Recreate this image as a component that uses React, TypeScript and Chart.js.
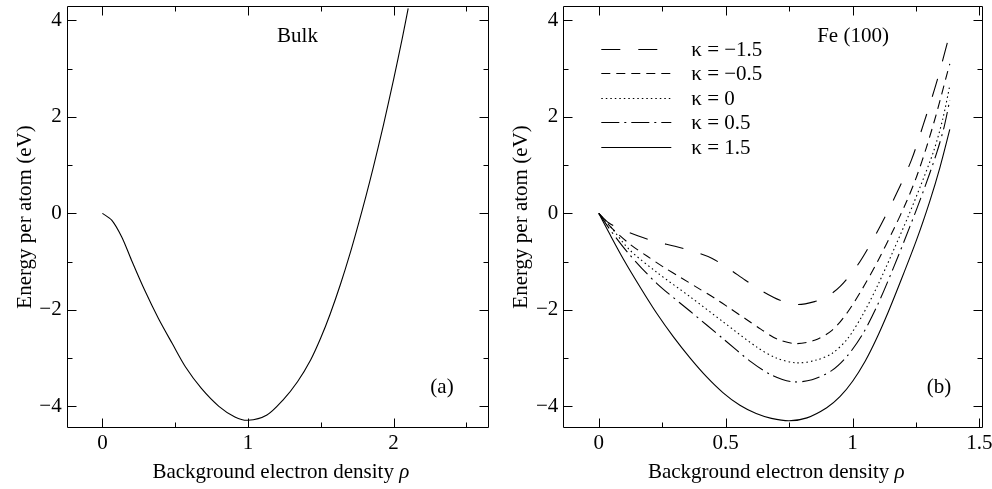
import React, { useEffect, useRef } from "react";
import { Chart, registerables } from "chart.js";

Chart.register(...registerables);

const FONT = '"Liberation Serif", "Times New Roman", Times, serif';

// ---------- Panel (a): Bulk ----------
const bulkRho = [0, 0.064, 0.133, 0.2, 0.29, 0.385, 0.48, 0.57, 0.68, 0.8, 0.91, 1.0, 1.13, 1.24, 1.34, 1.43, 1.5, 1.565, 1.635, 1.7, 1.76, 1.81, 1.86, 1.93, 2.0, 2.06, 2.1];
const bulkEnergy = [0, -0.14, -0.49, -0.97, -1.59, -2.18, -2.7, -3.18, -3.63, -4.0, -4.22, -4.29, -4.18, -3.87, -3.49, -3.04, -2.58, -2.08, -1.47, -0.84, -0.2, 0.36, 0.95, 1.83, 2.78, 3.64, 4.25];

// ---------- Panel (b): Fe (100) ----------
const kappaLabels = ["κ = −1.5", "κ = −0.5", "κ = 0", "κ = 0.5", "κ = 1.5"];

const rhoKm15 = [0, 0.04, 0.09, 0.156, 0.228, 0.3, 0.379, 0.445, 0.51, 0.576, 0.64, 0.714, 0.78, 0.85, 0.9, 0.95, 1.02, 1.094, 1.173, 1.232, 1.278, 1.33, 1.383];
const eKm15 = [0, -0.2, -0.33, -0.47, -0.59, -0.68, -0.8, -0.93, -1.14, -1.38, -1.6, -1.8, -1.89, -1.83, -1.72, -1.52, -1.07, -0.41, 0.41, 1.11, 1.83, 2.7, 3.73];

const rhoKm05 = [0, 0.05, 0.123, 0.191, 0.257, 0.323, 0.388, 0.454, 0.517, 0.579, 0.638, 0.7, 0.775, 0.85, 0.92, 0.98, 1.04, 1.1, 1.16, 1.213, 1.252, 1.291, 1.331, 1.37, 1.383];
const eKm05 = [0, -0.3, -0.64, -0.89, -1.12, -1.33, -1.54, -1.75, -1.97, -2.19, -2.4, -2.6, -2.7, -2.63, -2.42, -2.05, -1.55, -0.98, -0.35, 0.25, 0.76, 1.37, 2.08, 2.85, 3.1];

const rhoK0 = [0, 0.05, 0.12, 0.228, 0.36, 0.49, 0.622, 0.7, 0.78, 0.858, 0.92, 0.98, 1.04, 1.1, 1.16, 1.22, 1.27, 1.32, 1.355, 1.383];
const eK0 = [0, -0.3, -0.75, -1.22, -1.73, -2.25, -2.77, -3.0, -3.1, -3.04, -2.9, -2.6, -2.1, -1.48, -0.78, -0.05, 0.6, 1.3, 1.95, 2.65];

const rhoK05 = [0, 0.05, 0.12, 0.228, 0.36, 0.49, 0.6, 0.68, 0.76, 0.84, 0.92, 0.98, 1.04, 1.1, 1.16, 1.226, 1.278, 1.331, 1.36, 1.383];
const eK05 = [0, -0.38, -0.85, -1.45, -2.03, -2.6, -3.08, -3.35, -3.49, -3.45, -3.25, -2.95, -2.5, -1.88, -1.14, -0.27, 0.45, 1.25, 1.78, 2.35];

const rhoK15 = [0, 0.044, 0.097, 0.163, 0.228, 0.294, 0.36, 0.425, 0.49, 0.556, 0.62, 0.68, 0.75, 0.82, 0.898, 0.95, 1.0, 1.05, 1.094, 1.14, 1.186, 1.252, 1.304, 1.344, 1.383];
const eK15 = [0, -0.44, -0.95, -1.53, -2.07, -2.56, -3.0, -3.39, -3.72, -3.98, -4.15, -4.25, -4.3, -4.24, -4.03, -3.8, -3.48, -3.06, -2.6, -2.05, -1.45, -0.55, 0.25, 0.95, 1.74];

// ---------- Ticks ----------
const yMajorTicks = [-4, -2, 0, 2, 4];
const yMinorTicks = [-3, -1, 1, 3];
const xMajorTicksA = [0, 1, 2];
const xMinorTicksA = [0.5, 1.5, 2.5];
const xMajorTicksB = [0, 0.5, 1, 1.5];
const xMinorTicksB = [0.25, 0.75, 1.25];

const xTitle = "Background electron density ";
const xTitleSymbol = "ρ";
const yTitle = "Energy per atom (eV)";

const fmt = (v: number) => (v < 0 ? "\u2212" + Math.abs(v) : String(v));

const pts = (xs: number[], ys: number[]) => xs.map((x, i) => ({ x, y: ys[i] }));

const framePlugin = {
  id: "frame",
  afterDraw(chart: any, _args: any, opts: any) {
    const { ctx, chartArea: a, scales } = chart;
    const xs = scales.x;
    const ys = scales.y;
    ctx.save();
    ctx.strokeStyle = "#000";
    ctx.fillStyle = "#000";
    ctx.lineWidth = 1;
    const L = Math.round(a.left) + 0.5;
    const R = Math.round(a.right) - 0.5;
    const T = Math.round(a.top) + 0.5;
    const B = Math.round(a.bottom) - 0.5;
    ctx.beginPath();
    ctx.rect(L, T, R - L, B - T);
    ctx.stroke();
    const line = (x1: number, y1: number, x2: number, y2: number) => {
      ctx.beginPath();
      ctx.moveTo(x1, y1);
      ctx.lineTo(x2, y2);
      ctx.stroke();
    };
    const xt = (v: number, len: number) => {
      const p = Math.round(xs.getPixelForValue(v)) + 0.5;
      if (p < L || p > R) return;
      line(p, B, p, B - len);
      line(p, T, p, T + len);
    };
    const yt = (v: number, len: number) => {
      const p = Math.round(ys.getPixelForValue(v)) + 0.5;
      if (p < T || p > B) return;
      line(L, p, L + len, p);
      line(R, p, R - len, p);
    };
    opts.xMajor.forEach((v: number) => xt(v, 9));
    opts.xMinor.forEach((v: number) => xt(v, 5));
    yMajorTicks.forEach((v) => yt(v, 9));
    yMinorTicks.forEach((v) => yt(v, 5));

    // axis titles
    ctx.font = `21px ${FONT}`;
    ctx.textBaseline = "alphabetic";
    const w1 = ctx.measureText(xTitle).width;
    ctx.font = `italic 21px ${FONT}`;
    const w2 = ctx.measureText(xTitleSymbol).width;
    const cx = (a.left + a.right) / 2 + 3;
    const startX = cx - (w1 + w2) / 2;
    ctx.font = `21px ${FONT}`;
    ctx.textAlign = "left";
    ctx.fillText(xTitle, startX, a.bottom + 50);
    ctx.font = `italic 21px ${FONT}`;
    ctx.fillText(xTitleSymbol, startX + w1, a.bottom + 50);

    ctx.save();
    ctx.translate(a.left - 36, (a.top + a.bottom) / 2);
    ctx.rotate(-Math.PI / 2);
    ctx.font = `21px ${FONT}`;
    ctx.textAlign = "center";
    ctx.fillText(yTitle, 0, 0);
    ctx.restore();

    // annotations
    ctx.font = `21px ${FONT}`;
    ctx.textAlign = "center";
    ctx.textBaseline = "middle";
    ctx.fillText(opts.label, opts.labelX, 36);
    ctx.fillText(opts.tag, opts.tagX, 387);

    // legend
    if (opts.legend) {
      const x0 = a.left + 38;
      const x1 = a.left + 108;
      const tx = a.left + 128;
      chart.data.datasets.forEach((ds: any, i: number) => {
        const y = Math.round(49 + i * 24.4) + 0.5;
        ctx.save();
        ctx.setLineDash(ds.borderDash || []);
        ctx.lineWidth = ds.borderWidth;
        ctx.beginPath();
        ctx.moveTo(x0, y);
        ctx.lineTo(x1, y);
        ctx.stroke();
        ctx.restore();
        ctx.textAlign = "left";
        ctx.textBaseline = "middle";
        ctx.font = `21px ${FONT}`;
        ctx.fillText(ds.label, tx, y + 1);
      });
    }
    ctx.restore();
  },
};

function makeOptions(xMin: number, xMax: number, xTicks: number[], yAxisWidth: number, padRight: number, extra: any) {
  return {
    responsive: false,
    animation: false as const,
    maintainAspectRatio: false,
    layout: { padding: { left: 0, right: padRight, top: 6, bottom: 0 } },
    plugins: {
      legend: { display: false },
      tooltip: { enabled: false },
      frame: extra,
    },
    elements: { point: { radius: 0 } },
    scales: {
      x: {
        type: "linear" as const,
        min: xMin,
        max: xMax,
        grid: { display: false, drawTicks: false },
        border: { display: false },
        afterBuildTicks: (s: any) => {
          s.ticks = xTicks.map((v) => ({ value: v }));
        },
        afterFit: (s: any) => {
          s.height = 61;
          s.paddingLeft = 0;
          s.paddingRight = 0;
        },
        ticks: {
          autoSkip: false,
          maxRotation: 0,
          padding: 3,
          color: "#000",
          font: { family: FONT, size: 21 },
          callback: (v: any) => fmt(Number(v)),
        },
      },
      y: {
        type: "linear" as const,
        min: -4.45,
        max: 4.3,
        grid: { display: false, drawTicks: false },
        border: { display: false },
        afterBuildTicks: (s: any) => {
          s.ticks = yMajorTicks.map((v) => ({ value: v }));
        },
        afterFit: (s: any) => {
          s.width = yAxisWidth;
          s.paddingTop = 0;
          s.paddingBottom = 0;
        },
        ticks: {
          autoSkip: false,
          padding: 5,
          color: "#000",
          font: { family: FONT, size: 21 },
          callback: (v: any) => fmt(Number(v)),
        },
      },
    },
  };
}

function Panel({ config }: { config: any }) {
  const ref = useRef<HTMLCanvasElement | null>(null);
  useEffect(() => {
    if (!ref.current) return;
    const chart = new Chart(ref.current, config);
    return () => chart.destroy();
  }, []);
  return <canvas ref={ref} width={496} height={489} style={{ display: "block", width: 496, height: 489 }} />;
}

const lineDs = (label: string, data: any, dash: number[]) => ({
  label,
  data,
  borderColor: "#000",
  borderWidth: 1.1,
  borderDash: dash,
  fill: false,
  pointRadius: 0,
  tension: 0.3,
});

export default function App() {
  const configA = {
    type: "line",
    data: { datasets: [lineDs("Bulk", pts(bulkRho, bulkEnergy), [])] },
    options: makeOptions(-0.245, 2.655, xMajorTicksA, 66.7, 7, {
      xMajor: xMajorTicksA,
      xMinor: xMinorTicksA,
      label: "Bulk",
      labelX: 297.5,
      tag: "(a)",
      tagX: 442,
      legend: false,
    }),
    plugins: [framePlugin],
  };
  const configB = {
    type: "line",
    data: {
      datasets: [
        lineDs(kappaLabels[0], pts(rhoKm15, eKm15), [19, 18]),
        lineDs(kappaLabels[1], pts(rhoKm05, eKm05), [9, 6]),
        lineDs(kappaLabels[2], pts(rhoK0, eK0), [1.5, 3]),
        lineDs(kappaLabels[3], pts(rhoK05, eK05), [18, 5, 2, 5]),
        lineDs(kappaLabels[4], pts(rhoK15, eK15), []),
      ],
    },
    options: makeOptions(-0.14, 1.515, xMajorTicksB, 67.3, 8.7, {
      xMajor: xMajorTicksB,
      xMinor: xMinorTicksB,
      label: "Fe (100)",
      labelX: 853 - 496,
      tag: "(b)",
      tagX: 939 - 496,
      legend: true,
    }),
    plugins: [framePlugin],
  };
  return (
    <div style={{ position: "fixed", left: 0, top: 0, width: 992, height: 489, background: "#fff", display: "flex" }}>
      <Panel config={configA} />
      <Panel config={configB} />
    </div>
  );
}
